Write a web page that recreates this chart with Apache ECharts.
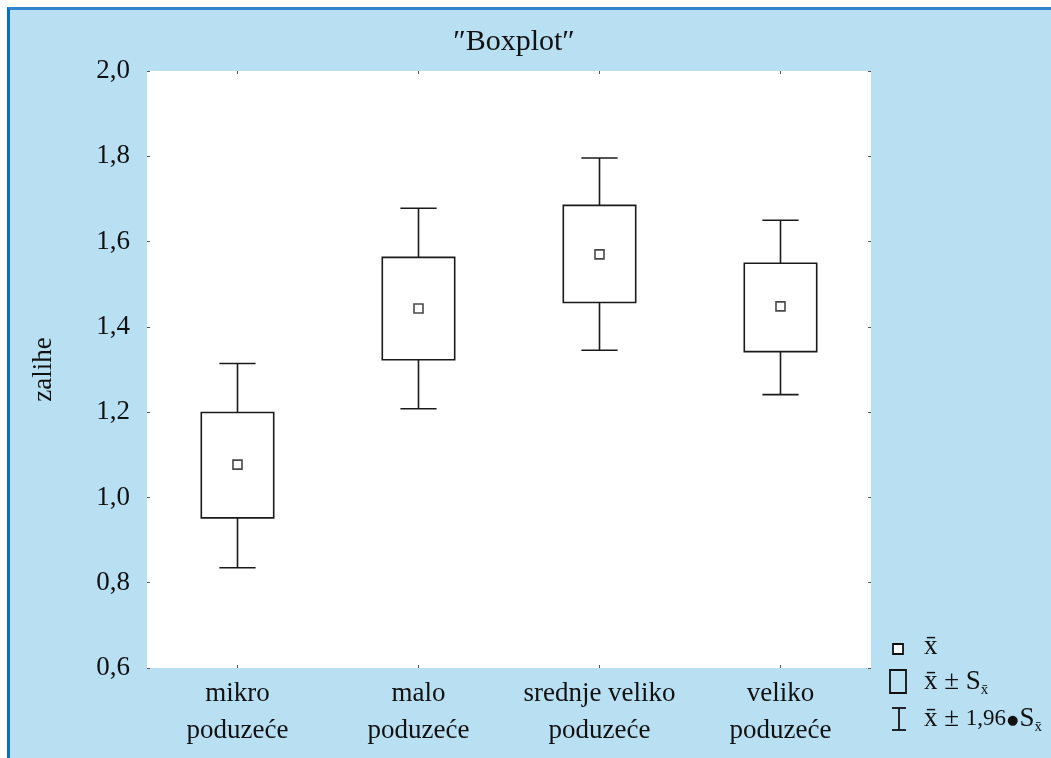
<!DOCTYPE html>
<html>
<head>
<meta charset="utf-8">
<title>Boxplot - zalihe</title>
<script src="https://cdn.jsdelivr.net/npm/echarts@6/dist/echarts.min.js"></script>
<style>
	html, body { margin: 0; padding: 0; background: #fff; }
	.frame {
		position: absolute; left: 7px; top: 7px; right: 0; bottom: 0;
		background: #b8dff2;
		border-top: 3px solid #2f86cc;
		border-left: 3px solid #0b6fbf;
	}
	#chart { position: absolute; left: 0; top: 0; width: 1051px; height: 758px; }
</style>
</head>
<body>
<div class="frame"></div>
<div id="chart"></div>
<script>
// kategorije
var categories = ['mikro\npoduzeće', 'malo\npoduzeće', 'srednje veliko\npoduzeće', 'veliko\npoduzeće'];
// aritmeticka sredina
var means = [1.077, 1.443, 1.570, 1.448];
// x - S / x + S
var boxLow = [0.952, 1.323, 1.457, 1.342];
var boxHigh = [1.199, 1.563, 1.685, 1.549];
// x - 1,96 S / x + 1,96 S
var whiskLow = [0.835, 1.208, 1.345, 1.241];
var whiskHigh = [1.314, 1.678, 1.796, 1.650];
// y os
var yMin = 0.6, yMax = 2.0, yStep = 0.2;

var fontFamily = "'Liberation Serif', 'DejaVu Serif', serif";
var lineColor = '#1a1a1a';

var boxData = categories.map(function(c, i) {
	return [i, whiskLow[i], boxLow[i], boxHigh[i], whiskHigh[i]];
});

function renderBox(params, api) {
	var idx = api.value(0);
	var band = api.size([1, 0])[0];
	var bw = band * 0.4, cw = band * 0.2;
	var pLow = api.coord([idx, api.value(1)]);
	var pQ1 = api.coord([idx, api.value(2)]);
	var pQ3 = api.coord([idx, api.value(3)]);
	var pHigh = api.coord([idx, api.value(4)]);
	var x = pLow[0];
	var style = { stroke: lineColor, lineWidth: 1.6, fill: null };
	return {
		type: 'group',
		children: [
			{ type: 'line', shape: { x1: x, y1: pLow[1], x2: x, y2: pQ1[1] }, style: style },
			{ type: 'line', shape: { x1: x, y1: pQ3[1], x2: x, y2: pHigh[1] }, style: style },
			{ type: 'line', shape: { x1: x - cw / 2, y1: pLow[1], x2: x + cw / 2, y2: pLow[1] }, style: style },
			{ type: 'line', shape: { x1: x - cw / 2, y1: pHigh[1], x2: x + cw / 2, y2: pHigh[1] }, style: style },
			{ type: 'rect', shape: { x: x - bw / 2, y: pQ3[1], width: bw, height: pQ1[1] - pQ3[1] }, style: { stroke: lineColor, lineWidth: 1.6, fill: '#fff' } }
		]
	};
}

var tickStyle = { show: true, inside: true, length: 3, lineStyle: { color: '#555', width: 1 } };
var legendFont = '27px ' + fontFamily;
var subStyle = { fontSize: 15, fontFamily: fontFamily, padding: [16, 0, 0, 0] };

var chart = echarts.init(document.getElementById('chart'));
var option = {
	animation: false,
	backgroundColor: 'transparent',
	title: {
		text: '″Boxplot″',
		left: 509,
		top: 22,
		textAlign: 'center',
		textStyle: { fontFamily: fontFamily, fontSize: 30, fontWeight: 'normal', color: '#111' }
	},
	grid: {
		left: 147, right: 180, top: 71, bottom: 90,
		show: true, backgroundColor: '#fff', borderWidth: 0
	},
	xAxis: [{
		type: 'category',
		data: categories,
		axisLine: { show: false },
		axisTick: { show: true, inside: true, length: 3, alignWithLabel: true, lineStyle: { color: '#555' } },
		axisLabel: {
			interval: 0,
			hideOverlap: false,
			margin: 7,
			fontFamily: fontFamily, fontSize: 27, color: '#111', lineHeight: 37
		}
	}, {
		type: 'category',
		position: 'top',
		data: categories,
		axisLine: { show: false },
		axisTick: { show: true, inside: true, length: 3, alignWithLabel: true, lineStyle: { color: '#555' } },
		axisLabel: { show: false }
	}],
	yAxis: [{
		type: 'value',
		min: yMin, max: yMax, interval: yStep,
		name: 'zalihe',
		nameLocation: 'middle',
		nameGap: 90,
		nameTextStyle: { fontFamily: fontFamily, fontSize: 27, color: '#111' },
		axisLine: { show: false },
		axisTick: tickStyle,
		splitLine: { show: false },
		axisLabel: {
			margin: 17,
			fontFamily: fontFamily, fontSize: 27, color: '#111',
			formatter: function(v) { return v.toFixed(1).replace('.', ','); }
		}
	}, {
		type: 'value',
		position: 'right',
		min: yMin, max: yMax, interval: yStep,
		axisLine: { show: false },
		axisTick: tickStyle,
		splitLine: { show: false },
		axisLabel: { show: false }
	}],
	series: [{
		type: 'custom',
		name: 'x ± S',
		renderItem: renderBox,
		encode: { x: 0, y: [1, 2, 3, 4] },
		data: boxData,
		z: 2
	}, {
		type: 'scatter',
		name: 'x',
		symbol: 'rect',
		symbolSize: 9,
		itemStyle: { color: '#fff', borderColor: lineColor, borderWidth: 1.6 },
		data: means.map(function(m, i) { return [i, m]; }),
		z: 5
	}],
	// legenda
	graphic: [{
		type: 'group',
		x: 0,
		y: 0,
		children: [
			{ type: 'rect', shape: { x: 893, y: 644, width: 10, height: 10 }, style: { fill: '#fff', stroke: '#111', lineWidth: 1.8 } },
			{ type: 'rect', shape: { x: 890, y: 670, width: 16, height: 23 }, style: { fill: null, stroke: '#111', lineWidth: 1.8 } },
			{ type: 'line', shape: { x1: 899, y1: 708, x2: 899, y2: 730 }, style: { stroke: '#111', lineWidth: 1.8 } },
			{ type: 'line', shape: { x1: 892, y1: 708, x2: 906, y2: 708 }, style: { stroke: '#111', lineWidth: 1.8 } },
			{ type: 'line', shape: { x1: 892, y1: 730, x2: 906, y2: 730 }, style: { stroke: '#111', lineWidth: 1.8 } },
			{ type: 'text', x: 924, y: 647, style: { text: 'x̄', font: legendFont, fill: '#111', verticalAlign: 'middle' } },
			{ type: 'text', x: 924, y: 682, style: {
				text: 'x̄ ± S{s|x̄}',
				font: legendFont, fill: '#111', verticalAlign: 'middle',
				rich: { s: subStyle }
			} },
			{ type: 'text', x: 924, y: 719, style: {
				text: 'x̄ ± {n|1,96}{b|●}S{s|x̄}',
				font: legendFont, fill: '#111', verticalAlign: 'middle',
				rich: {
					n: { fontSize: 23, fontFamily: fontFamily },
					b: { fontSize: 13, fontFamily: 'DejaVu Sans', padding: [4, 1, 0, 1] },
					s: subStyle
				}
			} }
		]
	}]
};
chart.setOption(option);
</script>
</body>
</html>
